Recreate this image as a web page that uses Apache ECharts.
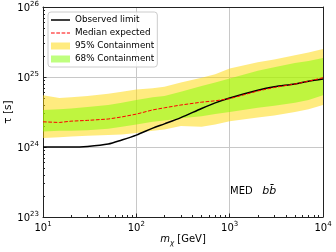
<!DOCTYPE html>
<html><head><meta charset="utf-8">
<script src="https://cdn.jsdelivr.net/npm/echarts@6/dist/echarts.min.js"></script>
<style>html,body{margin:0;padding:0;background:#fff}#c{width:336px;height:252px}</style>
</head><body><div id="c"></div>
<script>
// ---- data ----
const mass = [10, 15, 20, 30, 50, 70, 100, 150, 200, 300, 500, 700, 1000, 2000, 3000, 5000, 7000, 10000];
const observed = [1.00e24, 1.00e24, 1.00e24, 1.02e24, 1.10e24, 1.26e24, 1.48e24, 1.86e24, 2.14e24, 2.63e24, 3.55e24, 4.27e24, 5.01e24, 6.46e24, 7.24e24, 7.94e24, 8.71e24, 9.33e24];
const median = [2.29e24, 2.24e24, 2.34e24, 2.40e24, 2.51e24, 2.69e24, 2.95e24, 3.39e24, 3.63e24, 3.98e24, 4.37e24, 4.57e24, 4.90e24, 6.31e24, 7.08e24, 7.94e24, 8.71e24, 9.77e24];
const band95Hi = [5.50e24, 5.01e24, 5.13e24, 5.37e24, 5.75e24, 6.17e24, 6.61e24, 6.92e24, 7.24e24, 8.32e24, 9.77e24, 1.096e25, 1.318e25, 1.622e25, 1.778e25, 2.042e25, 2.239e25, 2.512e25];
const band95Lo = [1.35e24, 1.38e24, 1.41e24, 1.45e24, 1.48e24, 1.51e24, 1.59e24, 1.70e24, 1.78e24, 2.00e24, 1.95e24, 2.09e24, 2.34e24, 2.63e24, 2.82e24, 3.16e24, 3.47e24, 3.98e24];
const band68Hi = [3.39e24, 3.47e24, 3.55e24, 3.72e24, 3.98e24, 4.27e24, 4.68e24, 5.13e24, 5.37e24, 6.17e24, 7.41e24, 8.32e24, 9.55e24, 1.230e25, 1.380e25, 1.585e25, 1.698e25, 1.862e25];
const band68Lo = [1.66e24, 1.70e24, 1.70e24, 1.74e24, 1.82e24, 1.95e24, 2.09e24, 2.29e24, 2.40e24, 2.57e24, 2.75e24, 2.95e24, 3.16e24, 3.63e24, 3.89e24, 4.27e24, 4.68e24, 5.50e24];
const xTickExps = [1, 2, 3, 4];
const yTickExps = [23, 24, 25, 26];

const FONT = 'DejaVu Sans';
// minor tick positions (in log10 units) for overlay value axes
function minorLog(e0, e1) {
  const out = [];
  for (let e = e0; e < e1; e++) for (let k = 2; k <= 9; k++) out.push(e + Math.log10(k));
  return out;
}

function band(name, lo, hi, color) {
  return {
    type: 'custom', name: name, coordinateSystem: 'cartesian2d', xAxisIndex: 0, yAxisIndex: 0,
    data: mass.map((m, i) => [m, lo[i], hi[i]]),
    encode: { x: 0, y: [1, 2] },
    itemStyle: { color: color },
    silent: true, clip: true, z: 1,
    renderItem: function (params, api) {
      if (params.dataIndex !== 0) return;
      const top = [], bot = [];
      for (let i = 0; i < mass.length; i++) {
        top.push(api.coord([mass[i], hi[i]]));
        bot.push(api.coord([mass[i], lo[i]]));
      }
      return { type: 'polygon', shape: { points: top.concat(bot.reverse()) }, style: { fill: color } };
    }
  };
}

const supRich = {
  b: { fontSize: 10, fontFamily: FONT, color: '#000', verticalAlign: 'bottom', lineHeight: 12 },
  s: { fontSize: 7, fontFamily: FONT, color: '#000', verticalAlign: 'top', lineHeight: 8 }
};
const fmt = v => '{b|10}{s|' + Math.round(Math.log10(v)) + '}';

// legend icons: thin horizontal line (tiny corner marks keep the bounding box 19x7)
const BOX = 'M0,0 L0.01,0 L0,0.01 Z M19,7 L18.99,7 L19,6.99 Z ';
const solidIcon = 'path://' + BOX + 'M0,2.8 H19 V4.2 H0 Z';
const dashIcon = 'path://' + BOX + 'M0,3 H3.7 V4 H0 Z M5.3,3 H9 V4 H5.3 Z M10.6,3 H14.3 V4 H10.6 Z M15.9,3 H19 V4 H15.9 Z';

const chart = echarts.init(document.getElementById('c'), null, { renderer: 'canvas' });
chart.setOption({
  animation: false,
  backgroundColor: '#fff',
  grid: { left: 43, right: 13, top: 7, bottom: 35, outerBoundsMode: 'none', containLabel: false },
  legend: {
    orient: 'vertical', left: 48, top: 12,
    backgroundColor: 'rgba(255,255,255,0.8)', borderColor: '#cccccc', borderWidth: 1, borderRadius: 3,
    padding: [3, 3, 3, 3], itemGap: 3, itemWidth: 19, itemHeight: 7,
    textStyle: { fontSize: 8.8, fontFamily: FONT, color: '#000', lineHeight: 10 },
    selectedMode: false,
    data: [
      { name: 'Observed limit', icon: solidIcon, itemStyle: { color: '#000' } },
      { name: 'Median expected', icon: dashIcon, itemStyle: { color: '#ff0000' } },
      { name: '95% Containment', icon: 'rect' },
      { name: '68% Containment', icon: 'rect' }
    ]
  },
  xAxis: [
    {
      type: 'log', logBase: 10, min: 10, max: 10000, position: 'bottom',
      name: '{i|m}{sub|χ}{n| [GeV]}', nameLocation: 'middle', nameGap: 17, nameMoveOverlap: false,
      nameTextStyle: { fontSize: 10, fontFamily: FONT, color: '#000',
        rich: { i: { fontSize: 10, fontStyle: 'italic', fontFamily: FONT, color: '#000', verticalAlign: 'top', lineHeight: 13 },
                sub: { fontSize: 7, fontStyle: 'italic', fontFamily: FONT, color: '#000', verticalAlign: 'bottom', lineHeight: 13 },
                n: { fontSize: 10, fontFamily: FONT, color: '#000', verticalAlign: 'top', lineHeight: 13 } } },
      axisLine: { show: true, lineStyle: { color: '#222', width: 1 } },
      axisTick: { show: true, inside: true, length: 3.5, lineStyle: { color: '#222' } },
      axisLabel: { formatter: fmt, rich: supRich, margin: 4 },
      splitLine: { show: true, lineStyle: { color: '#c8c8c8', width: 1 } },
      minorTick: { show: false }
    },
    {
      type: 'value', min: xTickExps[0], max: xTickExps[xTickExps.length - 1], position: 'bottom',
      axisLine: { show: false }, axisLabel: { show: false }, splitLine: { show: false },
      axisTick: { show: true, inside: true, length: 2, lineStyle: { color: '#222' }, customValues: minorLog(1, 4) }
    },
    {
      type: 'value', min: 0, max: 1, position: 'top',
      axisLine: { show: true, lineStyle: { color: '#222', width: 1 } },
      axisTick: { show: false }, axisLabel: { show: false }, splitLine: { show: false }
    }
  ],
  yAxis: [
    {
      type: 'log', logBase: 10, min: 1e23, max: 1e26, position: 'left',
      name: 'τ [s]', nameLocation: 'middle', nameGap: 29, nameRotate: 90, nameMoveOverlap: false,
      nameTextStyle: { fontSize: 10.5, fontFamily: FONT, color: '#000' },
      axisLine: { show: true, lineStyle: { color: '#222', width: 1 } },
      axisTick: { show: true, inside: true, length: 3.5, lineStyle: { color: '#222' } },
      axisLabel: { formatter: fmt, rich: supRich, margin: 4 },
      splitLine: { show: true, lineStyle: { color: '#c8c8c8', width: 1 } }
    },
    {
      type: 'value', min: yTickExps[0], max: yTickExps[yTickExps.length - 1], position: 'left',
      axisLine: { show: false }, axisLabel: { show: false }, splitLine: { show: false },
      axisTick: { show: true, inside: true, length: 2, lineStyle: { color: '#222' }, customValues: minorLog(23, 26) }
    },
    {
      type: 'value', min: 0, max: 1, position: 'right',
      axisLine: { show: true, lineStyle: { color: '#222', width: 1 } },
      axisTick: { show: false }, axisLabel: { show: false }, splitLine: { show: false }
    }
  ],
  graphic: [{
    type: 'text', left: 230, top: 186, z: 100,
    style: {
      text: '{a|MED   }{b|bb\u0304}',
      rich: { a: { fontSize: 10, fontFamily: FONT, fill: '#000' },
              b: { fontSize: 11, fontFamily: FONT, fontStyle: 'italic', fill: '#000' } }
    }
  }],
  series: [
    band('95% Containment', band95Lo, band95Hi, 'rgba(255,215,0,0.5)'),
    band('68% Containment', band68Lo, band68Hi, 'rgba(128,255,0,0.5)'),
    {
      type: 'line', name: 'Observed limit', xAxisIndex: 0, yAxisIndex: 0,
      data: mass.map((m, i) => [m, observed[i]]), smooth: 0.3,
      symbol: 'none', showSymbol: false, z: 3,
      lineStyle: { color: '#000', width: 1.5 }, itemStyle: { color: '#000' }
    },
    {
      type: 'line', name: 'Median expected', xAxisIndex: 0, yAxisIndex: 0,
      data: mass.map((m, i) => [m, median[i]]),
      symbol: 'none', showSymbol: false, z: 4,
      lineStyle: { color: '#ff0000', width: 1, type: [3.7, 1.6] }, itemStyle: { color: '#ff0000' }
    }
  ]
});
</script></body></html>
